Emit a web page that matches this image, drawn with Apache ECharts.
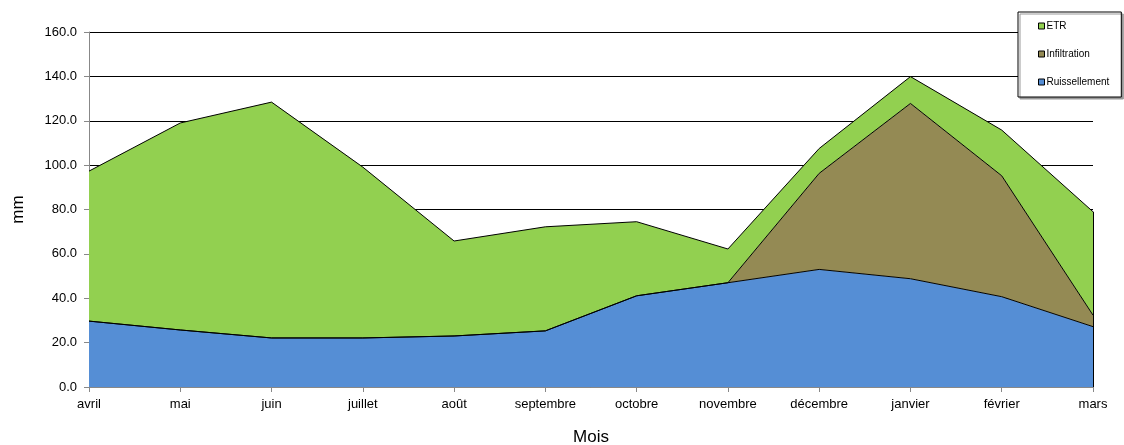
<!DOCTYPE html>
<html>
<head>
<meta charset="utf-8">
<script src="https://cdn.jsdelivr.net/npm/echarts@6/dist/echarts.min.js"></script>
<style>
  html, body { margin: 0; padding: 0; background: #fff; }
  #chart { width: 1124px; height: 445px; }
</style>
</head>
<body>
<div id="chart"></div>
<script>
// mois (avril -> mars)
var months = ['avril', 'mai', 'juin', 'juillet', 'août', 'septembre', 'octobre', 'novembre', 'décembre', 'janvier', 'février', 'mars'];
// valeurs (mm), empilées de bas en haut
var ruissellement = [29.7, 25.7, 22.1, 22.1, 23.0, 25.3, 41.1, 47.0, 53.0, 48.8, 40.7, 27.2];
var infiltration  = [0, 0, 0, 0, 0, 0, 0, 0, 43.3, 79.0, 54.5, 5.2];
var etr           = [67.6, 93.3, 106.3, 77.0, 42.8, 46.9, 33.4, 15.2, 11.2, 12.1, 20.6, 46.6];
var yTicks = [0, 20, 40, 60, 80, 100, 120, 140, 160];

var last = months.length - 1;
var totalLast = ruissellement[last] + infiltration[last] + etr[last];

var chart = echarts.init(document.getElementById('chart'));

function areaSerie(name, data, color) {
    return {
        name: name,
        type: 'line',
        stack: 'total',
        data: data,
        symbol: 'none',
        lineStyle: { color: '#000', width: 1 },
        areaStyle: { color: color, opacity: 1 },
        itemStyle: { color: color, borderColor: '#000', borderWidth: 1 },
        animation: false
    };
}

var serieEtr = areaSerie('ETR', etr, '#92D050');
// bord vertical à droite de l'aire (comme dans Excel)
serieEtr.markLine = {
    silent: true,
    symbol: 'none',
    label: { show: false },
    lineStyle: { color: '#000', width: 1, type: 'solid' },
    data: [[{ coord: [months[last], 0] }, { coord: [months[last], totalLast] }]]
};

var option = {
    animation: false,
    backgroundColor: '#fff',
    grid: { left: 89, right: 31, top: 32, bottom: 58, containLabel: false, outerBoundsMode: 'none' },
    legend: {
        orient: 'vertical',
        left: 1018,
        top: 12,
        padding: [9, 12, 10, 20],
        itemGap: 18,
        itemWidth: 6,
        itemHeight: 6,
        icon: 'rect',
        itemStyle: { borderColor: '#000', borderWidth: 1 },
        backgroundColor: '#fff',
        borderColor: '#000',
        borderWidth: 1,
        shadowColor: '#999',
        shadowOffsetX: 2,
        shadowOffsetY: 2,
        shadowBlur: 0,
        textStyle: { fontFamily: 'Liberation Sans, Arial', fontSize: 10, color: '#000', lineHeight: 10, padding: [0, 0, 0, -3] },
        data: ['ETR', 'Infiltration', 'Ruissellement']
    },
    xAxis: {
        type: 'category',
        boundaryGap: false,
        data: months,
        name: 'Mois',
        nameLocation: 'middle',
        nameGap: 42,
        nameTextStyle: { fontFamily: 'Liberation Sans, Arial', fontSize: 17, color: '#000' },
        axisLine: { lineStyle: { color: '#888', width: 1 } },
        axisTick: { show: true, alignWithLabel: true, length: 5, lineStyle: { color: '#888' } },
        axisLabel: { fontFamily: 'Liberation Sans, Arial', fontSize: 13, color: '#000', margin: 11, interval: 0 },
        splitLine: { show: false }
    },
    yAxis: {
        type: 'value',
        min: yTicks[0],
        max: yTicks[yTicks.length - 1],
        interval: 20,
        name: 'mm',
        nameLocation: 'middle',
        nameGap: 62,
        nameTextStyle: { fontFamily: 'Liberation Sans, Arial', fontSize: 17, color: '#000' },
        axisLine: { show: true, lineStyle: { color: '#888', width: 1 } },
        axisTick: { show: true, length: 5, lineStyle: { color: '#888' } },
        axisLabel: {
            fontFamily: 'Liberation Sans, Arial', fontSize: 13, color: '#000', margin: 12,
            formatter: function (v) { return v.toFixed(1); }
        },
        splitLine: { show: true, lineStyle: { color: '#000', width: 1 } }
    },
    series: [
        areaSerie('Ruissellement', ruissellement, '#558ED5'),
        areaSerie('Infiltration', infiltration, '#948A54'),
        serieEtr
    ]
};

chart.setOption(option);
</script>
</body>
</html>
